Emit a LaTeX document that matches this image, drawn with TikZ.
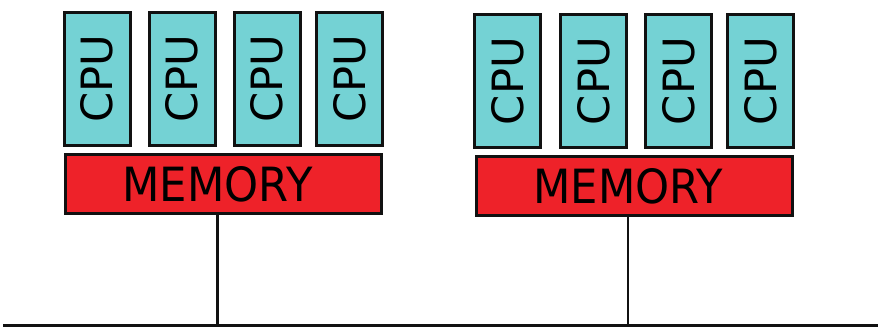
\documentclass[tikz,border=0pt]{standalone}
\usepackage{fontspec}
\setmainfont{DejaVu Sans}
\usepackage{graphicx}
\newlength{\pxu}\setlength{\pxu}{0.75pt}
\definecolor{cpucyan}{RGB}{116,210,212}
\definecolor{memred}{RGB}{238,34,41}
\definecolor{edge}{RGB}{17,17,17}
\tikzset{
  cpubox/.style={draw=edge, fill=cpucyan, line width=3\pxu, inner sep=0pt,
    minimum width=66\pxu, minimum height=133\pxu,
    node contents={\rotatebox{90}{\resizebox{88\pxu}{32\pxu}{CPU}}}},
  membox/.style={draw=edge, fill=memred, line width=3\pxu, inner sep=0pt,
    minimum width=316\pxu, minimum height=59\pxu,
    node contents={\resizebox{190\pxu}{35\pxu}{MEMORY}\kern12\pxu\relax}},
  wire/.style={draw=edge, line width=2.6\pxu},
  bus/.style={draw=edge, line width=3.2\pxu}
}
\begin{document}
\begin{tikzpicture}[x=0.75pt,y=-0.75pt]
\useasboundingbox (0,0) rectangle (878,328);
% left group
\node (c1) at (97,78.7) [cpubox];
\node (c2) at (182.3,78.7) [cpubox];
\node (c3) at (267.2,78.7) [cpubox];
\node (c4) at (349.5,78.7) [cpubox];
\node (m1) at (223.4,184.2) [membox];
% right group
\node (c5) at (507.5,81) [cpubox];
\node (c6) at (593.5,81) [cpubox];
\node (c7) at (678.3,81) [cpubox];
\node (c8) at (760.8,81) [cpubox];
\node (m2) at (634.3,186.3) [membox];
% bus
\coordinate (busL) at (3,325.5);
\coordinate (busR) at (878,325.5);
\coordinate (t1) at (217.5,325.5);
\coordinate (t2) at (628,325.5);
\path[bus] (busL) -- (busR);
\path[wire] (t1 |- m1.south) -- (t1);
\path[wire] (t2 |- m2.south) -- (t2);
\end{tikzpicture}
\end{document}
